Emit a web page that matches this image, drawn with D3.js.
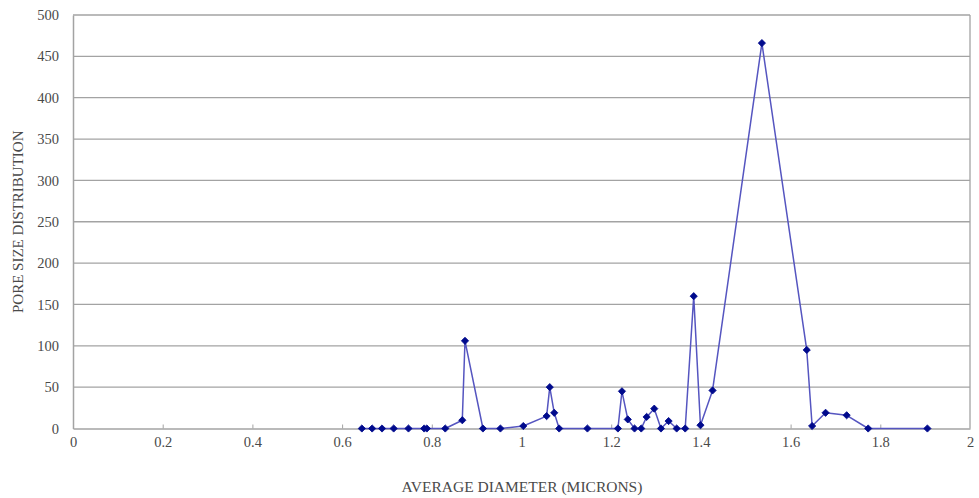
<!DOCTYPE html>
<html>
<head>
<meta charset="utf-8">
<script src="https://cdn.jsdelivr.net/npm/d3@7"></script>
<style>
  html, body { margin: 0; padding: 0; background: #fff; }
  svg { display: block; }
</style>
</head>
<body>
<svg id="chart" width="979" height="498"></svg>
<script>
// Average pore diameter (microns) and pore size distribution values
const diameters = [0.644, 0.667, 0.689, 0.715, 0.748, 0.783, 0.789, 0.830, 0.868, 0.874,
  0.914, 0.953, 1.004, 1.056, 1.063, 1.073, 1.084, 1.147, 1.215, 1.224,
  1.237, 1.252, 1.267, 1.279, 1.296, 1.311, 1.328, 1.346, 1.365, 1.384,
  1.399, 1.426, 1.536, 1.636, 1.648, 1.678, 1.725, 1.773, 1.905];
const distribution = [0, 0, 0, 0, 0, 0, 0, 0, 10, 106,
  0, 0, 3, 15, 50, 19, 0, 0, 0, 45,
  11, 0, 0, 14, 24, 0, 9, 0, 0, 160,
  4, 46, 466, 95, 3, 19, 16, 0, 0];

const xTicks = [0, 0.2, 0.4, 0.6, 0.8, 1, 1.2, 1.4, 1.6, 1.8, 2];
const yTicks = [0, 50, 100, 150, 200, 250, 300, 350, 400, 450, 500];
const xTitle = "AVERAGE DIAMETER (MICRONS)";
const yTitle = "PORE SIZE DISTRIBUTION";

const points = diameters.map((d, i) => ({ x: d, y: distribution[i] }));

const svg = d3.select("#chart");
const plotLeft = 73, plotRight = 970, plotTop = 15, plotBottom = 428.5;

const x = d3.scaleLinear().domain([0, 2]).range([plotLeft, plotRight]);
const y = d3.scaleLinear().domain([0, 500]).range([plotBottom, plotTop]);

const gray = "#a3a3a3";
const textColor = "#4a4a4a";
const font = "'Liberation Serif', 'DejaVu Serif', serif";

// Horizontal gridlines
svg.append("g")
  .selectAll("line")
  .data(yTicks.filter(t => t > 0))
  .join("line")
  .attr("x1", plotLeft).attr("x2", plotRight)
  .attr("y1", d => y(d)).attr("y2", d => y(d))
  .attr("stroke", gray).attr("stroke-width", 1.3);

// Plot frame (right edge)
svg.append("line")
  .attr("x1", plotRight).attr("x2", plotRight)
  .attr("y1", plotTop).attr("y2", plotBottom)
  .attr("stroke", gray).attr("stroke-width", 1.3);

// X axis with small inward ticks
const xAxis = svg.append("g")
  .attr("transform", `translate(0,${plotBottom})`)
  .call(d3.axisBottom(x).tickValues(xTicks).tickSizeInner(-4).tickSizeOuter(0)
    .tickPadding(8).tickFormat(d => String(d)));
xAxis.select(".domain").attr("stroke", gray).attr("stroke-width", 1.5);
xAxis.selectAll(".tick line").attr("stroke", gray).attr("stroke-width", 1);
xAxis.selectAll(".tick text")
  .attr("font-family", font).attr("font-size", 14.5).attr("fill", textColor);
xAxis.selectAll(".tick").filter(d => d === 0 || d === 2).select("line").remove();

// Y axis
const yAxis = svg.append("g")
  .attr("transform", `translate(${plotLeft},0)`)
  .call(d3.axisLeft(y).tickValues(yTicks).tickSize(0).tickPadding(14));
yAxis.select(".domain").attr("stroke", gray).attr("stroke-width", 1.5);
yAxis.selectAll(".tick text")
  .attr("font-family", font).attr("font-size", 14.5).attr("fill", textColor);

// Axis titles
svg.append("text")
  .attr("x", 522).attr("y", 492)
  .attr("text-anchor", "middle")
  .attr("font-family", font).attr("font-size", 15.5).attr("fill", textColor)
  .text(xTitle);

svg.append("text")
  .attr("transform", `translate(23,${(plotTop + plotBottom) / 2}) rotate(-90)`)
  .attr("text-anchor", "middle")
  .attr("font-family", font).attr("font-size", 15).attr("fill", textColor)
  .text(yTitle);

// Distribution line
const line = d3.line().x(d => x(d.x)).y(d => y(d.y));
svg.append("path")
  .datum(points)
  .attr("d", line)
  .attr("fill", "none")
  .attr("stroke", "#5555c0")
  .attr("stroke-width", 1.5)
  .attr("stroke-linejoin", "round");

// Diamond markers (square rotated 45 degrees)
const diamond = d3.symbol().type(d3.symbolSquare).size(26);
svg.append("g")
  .selectAll("path")
  .data(points)
  .join("path")
  .attr("d", diamond)
  .attr("transform", d => `translate(${x(d.x)},${y(d.y)}) rotate(45)`)
  .attr("fill", "#000a8c")
  .attr("stroke", "#000a8c")
  .attr("stroke-width", 0.8);
</script>
</body>
</html>
